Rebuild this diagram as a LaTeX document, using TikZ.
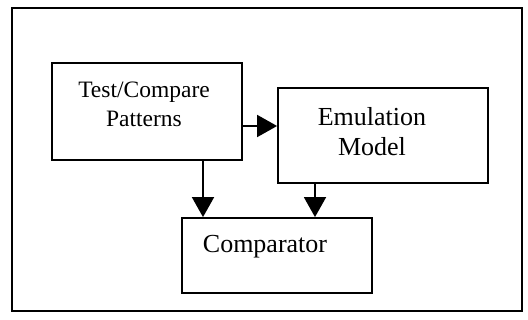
\documentclass[tikz,border=0pt]{standalone}
\usepackage{fontspec}
\setmainfont{Liberation Serif}
\usetikzlibrary{arrows.meta, positioning}

\begin{document}
\begin{tikzpicture}[x=1pt, y=-1pt, line width=1.8pt,
  blk/.style={draw, inner sep=0pt},
  txt/.style={align=center, inner sep=0pt, font=\fontsize{26}{30}\selectfont},
  arr/.style={-{Triangle[length=20pt,width=22pt]}}]
\useasboundingbox (0,0) rectangle (528,320);
\draw (12,8) rectangle (522,311);

\node[blk, minimum width=190pt, minimum height=97pt] (TC) at (147,111.5){};
\node[blk, minimum width=210pt, minimum height=95pt] (EM) at (383,135.5){};
\node[blk, minimum width=190pt, minimum height=75pt] (CP) at (277,255.5){};

\node[txt, font=\fontsize{23.5}{29}\selectfont] (TCt) at (144,104.5){Test/Compare\\Patterns};
\node[txt] (EMt) at (372,132){Emulation\\Model};
\node[txt] (CPt) at (265,247){Comparator};

\coordinate (a) at (0,126);
\coordinate (b) at (203,0);
\coordinate (c) at (315,0);
\draw[arr] (TC.east |- a) -- (EM.west |- a);
\draw[arr] (TC.south -| b) -- (CP.north -| b);
\draw[arr] (EM.south -| c) -- (CP.north -| c);
\end{tikzpicture}
\end{document}
